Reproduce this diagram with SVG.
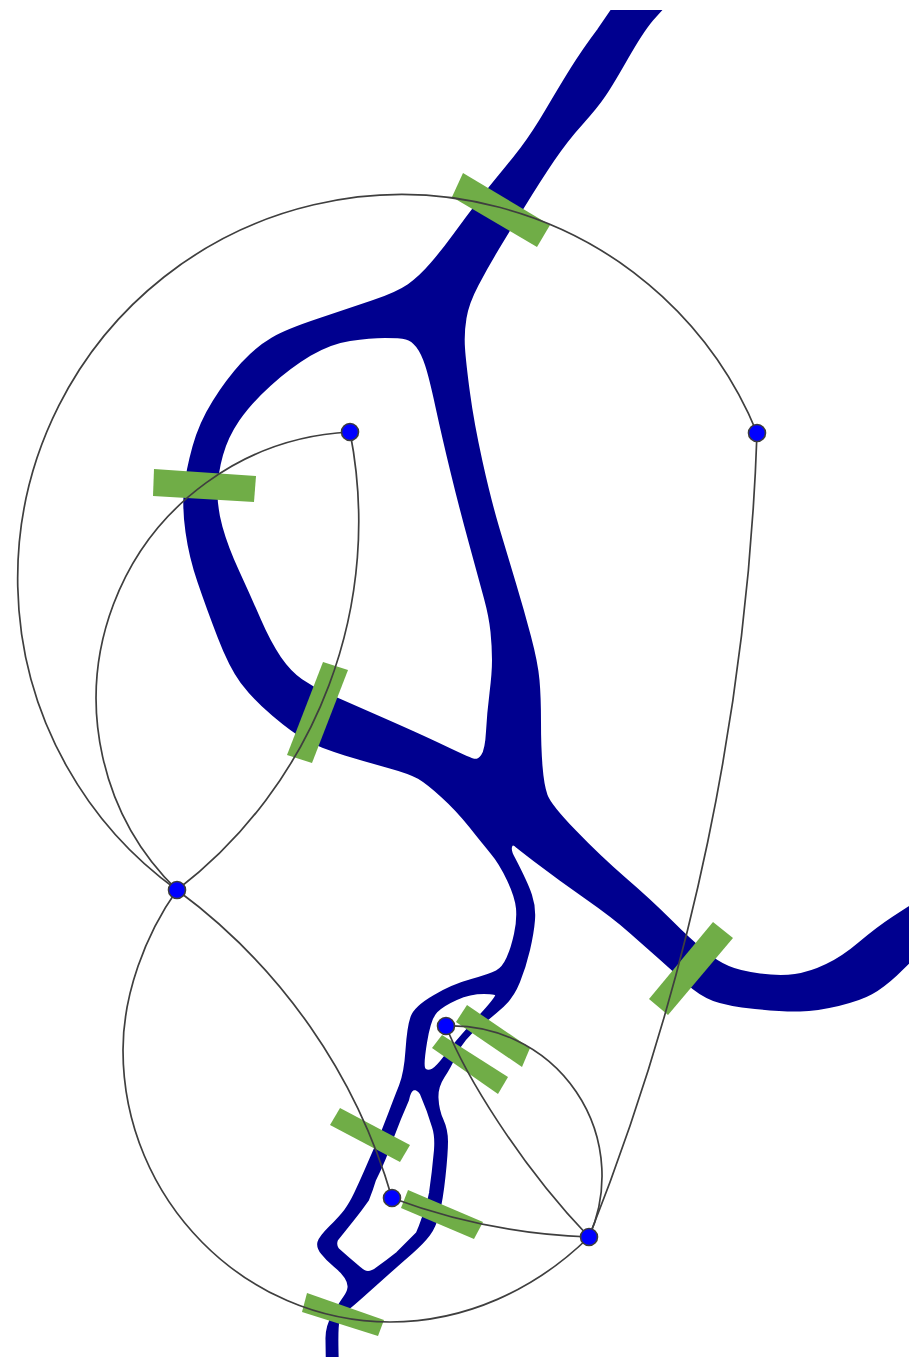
<svg xmlns="http://www.w3.org/2000/svg" width="912" height="1358" viewBox="0 0 912 1358">
<style>
.river{fill:#00008f;fill-rule:evenodd;stroke:#00008f;stroke-width:2;stroke-linejoin:round}
.gate{fill:#70ad47;stroke:none}
.edge{fill:none;stroke:#3f3f3f;stroke-width:1.7}
.node{fill:#0000ff;stroke:#3c3c3c;stroke-width:1.6}
</style>
<defs>
<filter id="soft" filterUnits="userSpaceOnUse" x="0" y="0" width="912" height="1358" color-interpolation-filters="sRGB">
<feGaussianBlur stdDeviation="0.55"/>
</filter>
<clipPath id="frame"><rect x="0" y="10" width="909" height="1347"/></clipPath>
</defs>
<rect width="912" height="1358" fill="#ffffff"/>
<g filter="url(#soft)">
<g id="river" clip-path="url(#frame)">
<path class="river" d="M672 -2 L652 20 Q642 32 627.5 57.5 Q613 83 605 95 Q597 107 582 123.5 Q567 140 553.5 160 Q540 180 524 206 Q508 232 497.5 249.5 Q487 267 477.5 285 Q468 303 465.5 318 Q463 333 464 348 Q465 363 469 393 Q473 423 481.5 461.5 Q490 500 498.5 528.5 Q507 557 515 583.5 Q523 610 530 636.5 Q537 663 538.5 680 Q540 697 540 722 Q540 747 541.5 766 Q543 785 546.5 795 Q550 805 575 831 Q600 857 625 878.5 Q650 900 670 920 Q690 940 703.5 951 Q717 962 728.5 967 Q740 972 760 974.5 Q780 977 795 975 Q810 973 826.5 965 Q843 957 860 942.5 Q877 928 893 917.5 L925 897 L925 947 L896 975 Q883 987 871.5 993.5 Q860 1000 838.5 1005 Q817 1010 800 1010.5 Q783 1011 755 1008 Q727 1005 713.5 1000 Q700 995 686.5 982.5 Q673 970 660 958.5 Q647 947 630 932 Q613 917 586.5 898.5 Q560 880 535 861 Q522 851 517 847 Q512 842 511 847 Q510 851 514 858 Q527 883 531 895 Q535 907 534 920 Q533 933 529 950 Q525 967 519 982 Q513 997 503 1006 Q493 1015 478 1027 Q463 1039 456.5 1053 Q450 1067 443.5 1077 Q437 1087 437.5 1098 Q438 1110 442.5 1120 Q447 1130 447 1141.5 Q447 1153 444.5 1176.5 Q442 1200 438.5 1213.5 Q435 1227 429 1235 Q423 1243 411.5 1253 Q400 1263 386.5 1275 Q373 1287 363 1296 Q353 1305 346.5 1310 Q340 1315 338.5 1321 Q337 1327 337.5 1351 L338 1375 L327 1375 L326.5 1340 Q326 1327 333 1315 Q340 1303 344 1297.5 Q348 1292 348.5 1287.5 Q349 1283 345.5 1277.5 Q342 1272 334.5 1266 Q327 1260 322 1253.5 Q317 1247 318.5 1242 Q320 1237 330 1227 Q340 1217 345 1210.5 Q350 1204 355 1193.5 Q360 1183 365 1171.5 Q370 1160 376.5 1145 Q383 1130 389 1114 Q395 1098 400 1085.5 Q405 1073 406.5 1050 Q408 1027 411.5 1017 Q415 1007 434 996 Q453 985 471.5 980 Q490 975 496.5 971.5 Q503 968 507.5 958 Q512 948 515 934 Q518 920 517 908.5 Q516 897 508 880 Q500 863 491.5 853 Q483 843 470 826.5 Q457 810 442 796.5 Q427 783 418.5 778 Q410 773 390 767.5 Q370 762 345 754.5 Q320 747 306.5 739.5 Q293 732 273 715 Q253 698 241.5 682.5 Q230 667 218.5 637 Q207 607 198.5 582 Q190 557 186.5 532 Q183 507 185 488.5 Q187 470 193.5 446.5 Q200 423 213.5 401.5 Q227 380 242 363.5 Q257 347 272 338.5 Q287 330 317 320 Q347 310 372 301.5 Q397 293 408.5 285 Q420 277 431.5 263.5 Q443 250 455 233.5 Q467 217 478.5 202 Q490 187 500 175 Q510 163 521.5 148 Q533 133 546.5 110 Q560 87 571.5 68.5 Q583 50 598 30 L620 -2 Z
M406 338.5 Q412 340 417 346.5 Q422 353 426 365 Q430 377 436.5 407 Q443 437 451.5 472 Q460 507 470 543.5 Q480 580 485 598.5 Q490 617 491.5 632 Q493 647 493 660 Q493 673 490.5 693 Q488 713 487 731.5 Q486 750 482 755.5 Q478 761 473 759.5 Q468 758 444 746.5 Q420 735 380 717.5 Q340 700 326.5 694 Q313 688 301.5 680 Q290 672 280 657.5 Q270 643 260 620 Q250 597 238.5 572 Q227 547 221.5 527 Q216 507 216.5 490 Q217 473 222 455 Q227 437 238.5 420 Q250 403 270 385 Q290 367 310 355 Q330 343 350 340 Q370 337 385 337 Q400 337 406 338.5 Z
M496 996 Q498 993 484 993 Q470 993 456.5 999 Q443 1005 436.5 1011.5 Q430 1018 426 1042.5 Q422 1067 425 1069.5 Q428 1072 432.5 1069.5 Q437 1067 446 1055 Q455 1043 475 1021 Q493 1002 496 996 Z
M414 1089 Q418 1089 421 1094 Q428 1110 433 1127 Q436 1136 435 1150 Q433 1172 430 1193 Q427 1208 422 1220 Q420 1226 417 1233 Q407 1243 397 1253 Q387 1261 377 1268 Q372 1272 368 1272 Q364 1272 360 1268 Q348 1258 338 1249 Q335 1245 337 1240 Q345 1230 353 1220 Q361 1210 368 1200 Q372 1190 375 1180 Q380 1170 385 1158 Q389 1148 393 1137 Q400 1118 408 1100 Q410 1090 414 1089 Z"/>
</g>
<g id="gates">
<polygon class="gate" points="463,173 550,225 537,247 452,197"/>
<polygon class="gate" points="154,469 256,476 254,502 153,496"/>
<polygon class="gate" points="323,662 348,670 312,763 287,755"/>
<polygon class="gate" points="713,922 733,938 668,1015 649,999"/>
<polygon class="gate" points="467,1005 530,1048 522,1067 456,1022"/>
<polygon class="gate" points="442,1035 508,1077 498,1094 432,1048"/>
<polygon class="gate" points="340,1108 410,1145 400,1162 330,1125"/>
<polygon class="gate" points="408,1190 483,1222 474,1239 401,1208"/>
<polygon class="gate" points="307,1293 384,1320 378,1336 302,1312"/>
</g>
<g id="connectors">
<path class="edge" d="M177 890 A384 384 0 1 1 757 433"/>
<path class="edge" d="M757 433 A2400 2400 0 0 1 589 1237"/>
<path class="edge" d="M177 890 A267 267 0 0 1 350 432"/>
<path class="edge" d="M350 432 A464 464 0 0 1 177 890"/>
<path class="edge" d="M177 890 C145 935 123 995 123 1050 C123 1200 245 1322 390 1322 C465 1322 535 1290 589 1237"/>
<path class="edge" d="M177 890 A585 585 0 0 1 392 1198"/>
<path class="edge" d="M392 1198 A625 625 0 0 0 589 1237"/>
<path class="edge" d="M446 1026 A150 150 0 0 1 589 1237"/>
<path class="edge" d="M446 1026 C465 1075 520 1165 589 1237"/>
</g>
<g id="node-a"><circle class="node" cx="350" cy="432" r="8.5"/></g>
<g id="node-b"><circle class="node" cx="757" cy="433" r="8.5"/></g>
<g id="node-c"><circle class="node" cx="177" cy="890" r="8.5"/></g>
<g id="node-d"><circle class="node" cx="446" cy="1026" r="8.5"/></g>
<g id="node-e"><circle class="node" cx="392" cy="1198" r="8.5"/></g>
<g id="node-f"><circle class="node" cx="589" cy="1237" r="8.5"/></g>
</g>
</svg>
